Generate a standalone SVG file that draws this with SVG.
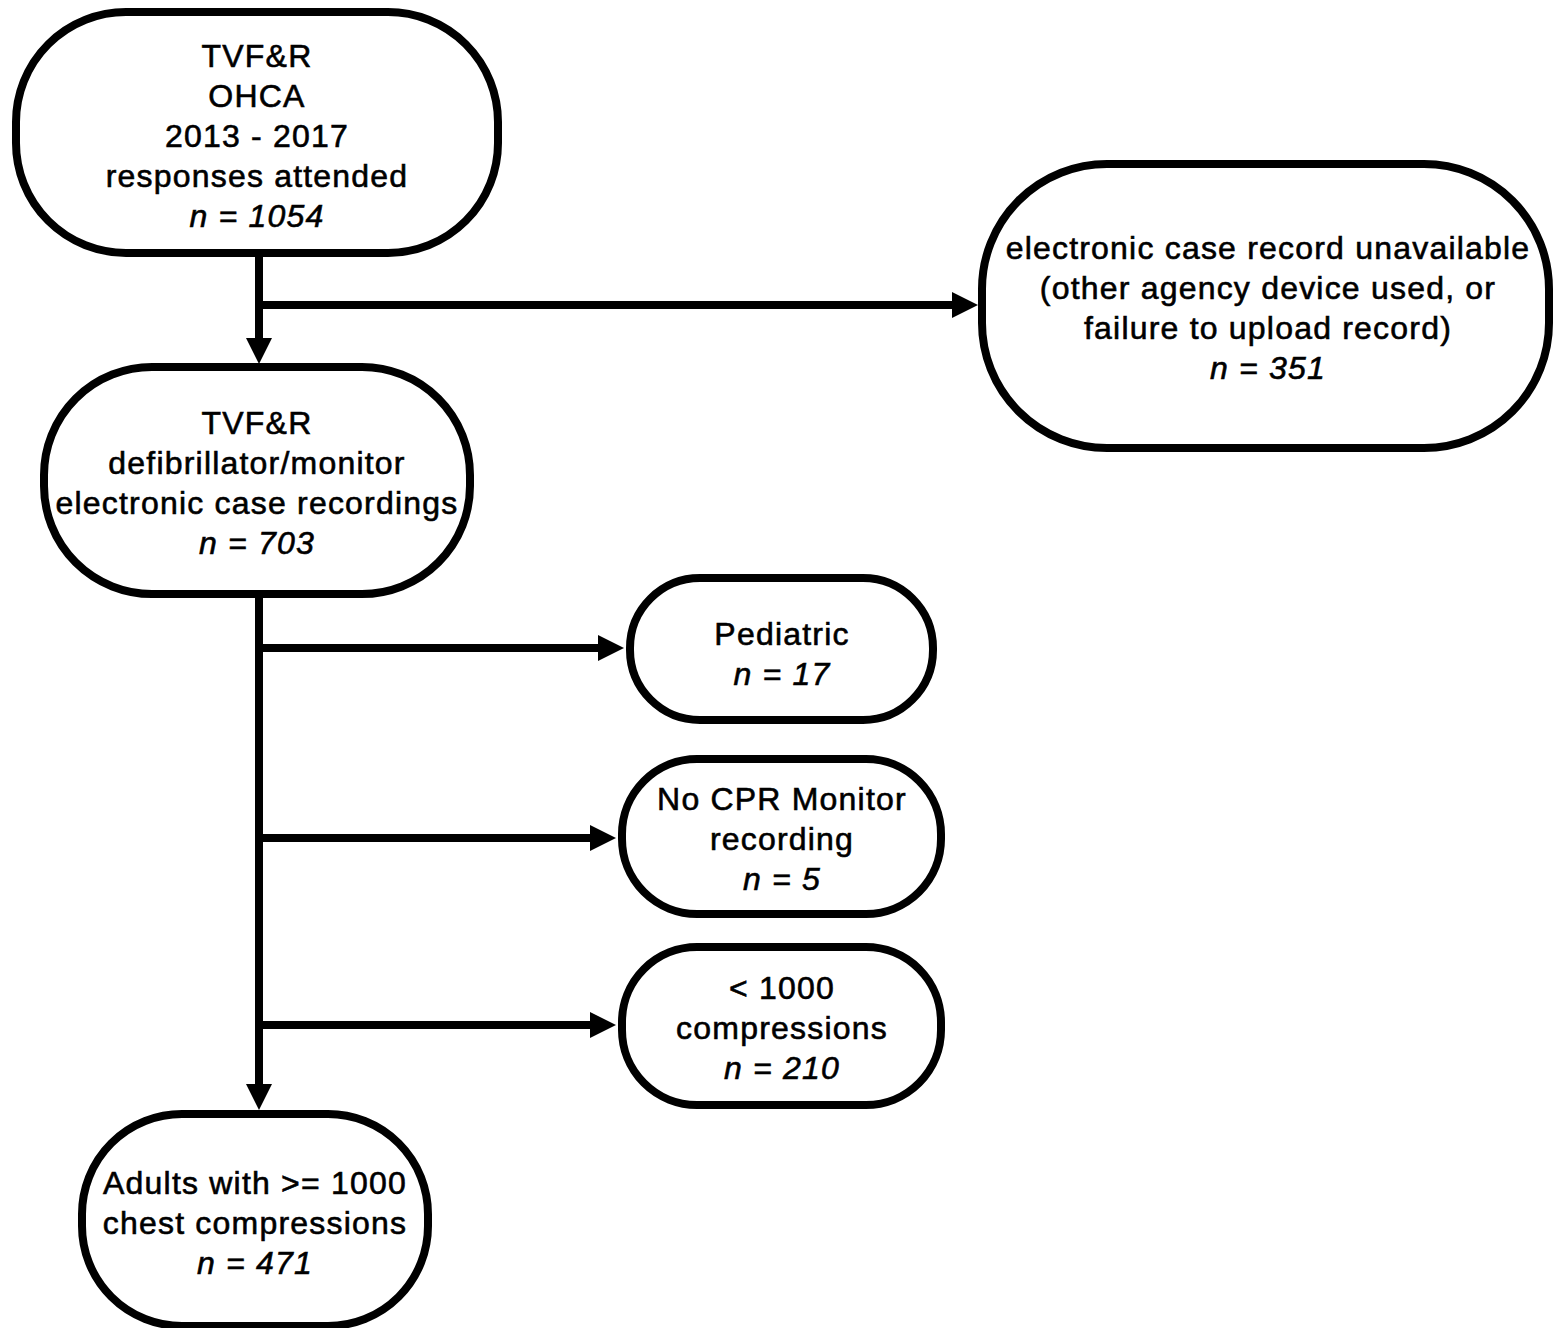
<svg xmlns="http://www.w3.org/2000/svg" width="1556" height="1328" viewBox="0 0 1556 1328">
<defs>
<style>
.node rect{fill:#fff;stroke:#000;stroke-width:8}
.node text{font-family:"Liberation Sans",Arial,sans-serif;font-size:32px;letter-spacing:1.2px;fill:#000;text-anchor:middle;stroke:#000;stroke-width:0.6}
.node text .n{font-style:italic}
.conn line{stroke:#000;stroke-width:8;fill:none}
.conn polygon{fill:#000}
</style>
</defs>
<rect width="1556" height="1328" fill="#fff"/>
<g class="conn">
<line x1="259" y1="253" x2="259" y2="340"/>
<polygon points="246,338 272,338 259,364"/>
<line x1="259" y1="305" x2="955" y2="305"/>
<polygon points="952,292 952,318 978,305"/>
<line x1="259" y1="597" x2="259" y2="1086"/>
<polygon points="246,1084 272,1084 259,1110"/>
<line x1="259" y1="648" x2="600" y2="648"/>
<polygon points="598,635 598,661 624,648"/>
<line x1="259" y1="838" x2="592" y2="838"/>
<polygon points="590,825 590,851 616,838"/>
<line x1="259" y1="1025" x2="592" y2="1025"/>
<polygon points="590,1012 590,1038 616,1025"/>
</g>
<g id="n1" class="node">
<rect x="16" y="12" width="482" height="241" rx="110" ry="110"/>
<text x="257" y="67">TVF&amp;R</text>
<text x="257" y="107">OHCA</text>
<text x="257" y="147">2013 - 2017</text>
<text x="257" y="187">responses attended</text>
<text x="257" y="227"><tspan class="n">n = 1054</tspan></text>
</g>
<g id="n2" class="node">
<rect x="982" y="164" width="567" height="284" rx="125" ry="125"/>
<text x="1268" y="259">electronic case record unavailable</text>
<text x="1268" y="299">(other agency device used, or</text>
<text x="1268" y="339">failure to upload record)</text>
<text x="1268" y="379"><tspan class="n">n = 351</tspan></text>
</g>
<g id="n3" class="node">
<rect x="44" y="367" width="426" height="227" rx="108" ry="108"/>
<text x="257" y="434">TVF&amp;R</text>
<text x="257" y="474">defibrillator/monitor</text>
<text x="257" y="514">electronic case recordings</text>
<text x="257" y="554"><tspan class="n">n = 703</tspan></text>
</g>
<g id="n4" class="node">
<rect x="630" y="578" width="303" height="142" rx="70" ry="70"/>
<text x="782" y="645">Pediatric</text>
<text x="782" y="685"><tspan class="n">n = 17</tspan></text>
</g>
<g id="n5" class="node">
<rect x="622" y="759" width="319" height="155" rx="75" ry="75"/>
<text x="782" y="810">No CPR Monitor</text>
<text x="782" y="850">recording</text>
<text x="782" y="890"><tspan class="n">n = 5</tspan></text>
</g>
<g id="n6" class="node">
<rect x="622" y="947" width="319" height="158" rx="75" ry="75"/>
<text x="782" y="999">&lt; 1000</text>
<text x="782" y="1039">compressions</text>
<text x="782" y="1079"><tspan class="n">n = 210</tspan></text>
</g>
<g id="n7" class="node">
<rect x="82" y="1114" width="346" height="212" rx="100" ry="100"/>
<text x="255" y="1194">Adults with &gt;= 1000</text>
<text x="255" y="1234">chest compressions</text>
<text x="255" y="1274"><tspan class="n">n = 471</tspan></text>
</g>
</svg>
